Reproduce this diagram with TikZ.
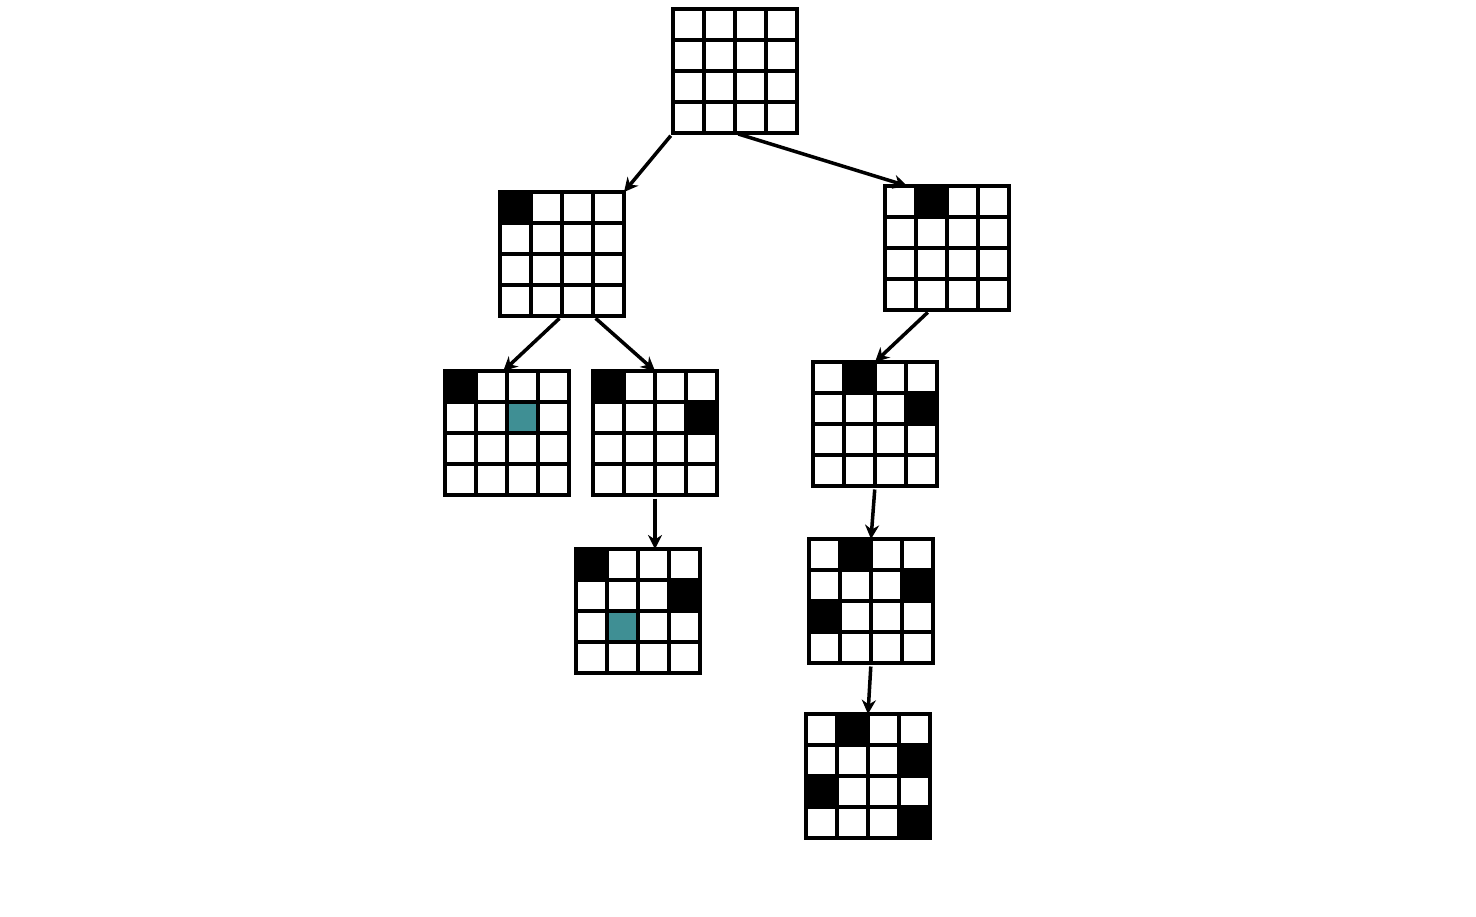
\documentclass[tikz,border=0pt]{standalone}
\usepackage{tikz}
\usetikzlibrary{arrows.meta, positioning, calc}
\definecolor{mTeal}{HTML}{3F8F94}

\newcommand{\boardcell}[4]{%
  \fill[#4] ($(#1.north west)+(#2*31,#3*31)$) rectangle ++(31,31);}
\newcommand{\boardlines}[1]{%
  \foreach \i in {1,2,3} {
    \draw[line width=2.6pt] ($(#1.north west)+(\i*31,0)$) -- ++(0,124);
    \draw[line width=2.6pt] ($(#1.north west)+(0,\i*31)$) -- ++(124,0);
  }}

\begin{document}
\begin{tikzpicture}[x=0.02cm, y=-0.02cm,
    board/.style={draw, line width=2.6pt, fill=white, inner sep=0pt, outer sep=0pt, minimum size=2.48cm},
    move/.style={-{Stealth[length=8pt, width=8pt]}, line width=2pt, shorten <=2pt}]
    \useasboundingbox (0,0) rectangle (1476,916);

    \node[board] (root) at (735,71) {};
    \node[board] (l1a) at (562,254) {};
    \node[board] (l1b) at (947,248) {};
    \node[board] (l2a) at (507,433) {};
    \node[board] (l2b) at (655,433) {};
    \node[board] (l3a) at (638,611) {};
    \node[board] (r2) at (875,424) {};
    \node[board] (r3) at (871,601) {};
    \node[board] (r4) at (868,776) {};

    \boardcell{l1a}{0}{0}{black}
    \boardcell{l1b}{1}{0}{black}
    \boardcell{l2a}{0}{0}{black}
    \boardcell{l2a}{2}{1}{mTeal}
    \boardcell{l2b}{0}{0}{black}
    \boardcell{l2b}{3}{1}{black}
    \boardcell{l3a}{0}{0}{black}
    \boardcell{l3a}{3}{1}{black}
    \boardcell{l3a}{1}{2}{mTeal}
    \boardcell{r2}{1}{0}{black}
    \boardcell{r2}{3}{1}{black}
    \boardcell{r3}{1}{0}{black}
    \boardcell{r3}{3}{1}{black}
    \boardcell{r3}{0}{2}{black}
    \boardcell{r4}{1}{0}{black}
    \boardcell{r4}{3}{1}{black}
    \boardcell{r4}{0}{2}{black}
    \boardcell{r4}{3}{3}{black}

    \foreach \b in {root, l1a, l1b, l2a, l2b, l3a, r2, r3, r4}
        \boardlines{\b};

    \draw[move] (root.south west) -- (l1a.north east);
    \draw[move] (root.south) -- ($(l1b.north west)!0.18!(l1b.north east)$);
    \draw[move] (l1a.south) -- ($(l2a.north)!0.06!(l2a.north west)$);
    \draw[move] ($(l1a.south)!0.5!(l1a.south east)$) -- (l2b.north);
    \draw[move] (l2b.south) -- (l2b.south |- l3a.north);
    \draw[move] ($(l1b.south)!0.27!(l1b.south west)$) -- (r2.north);
    \draw[move] (r2.south) -- (r3.north);
    \draw[move] (r3.south) -- (r4.north);
\end{tikzpicture}
\end{document}
